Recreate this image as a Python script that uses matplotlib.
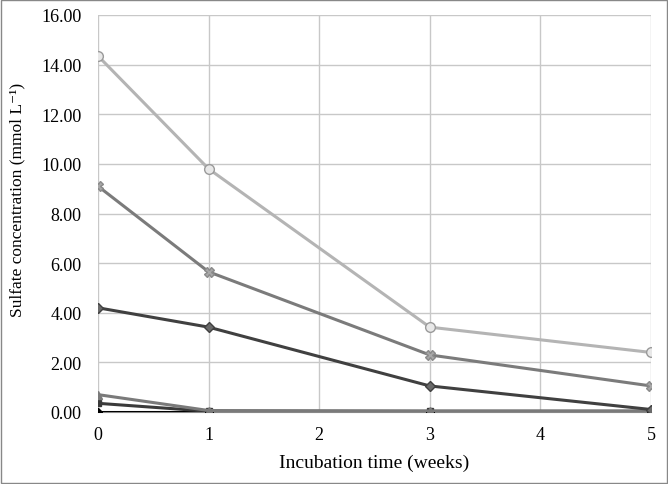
import matplotlib
matplotlib.use('Agg')
import matplotlib.pyplot as plt
from matplotlib.patches import Rectangle

weeks = [0, 1, 3, 5]
s_circle = [14.35, 9.80, 3.42, 2.40]
s_cross = [9.10, 5.65, 2.30, 1.05]
s_diamond = [4.20, 3.42, 1.05, 0.10]
s_triangle = [0.70, 0.06, 0.04, 0.04]
s_square = [0.35, 0.03, 0.03, 0.03]
s_black = [0.00, 0.00, 0.00, 0.00]

plt.rcParams['font.family'] = ['Liberation Serif', 'DejaVu Serif']

fig = plt.figure(figsize=(6.68, 4.85), dpi=100)
ax = fig.add_axes([98 / 668, 1 - 413 / 485, (651 - 98) / 668, (413 - 16) / 485])

ax.plot(weeks, s_black, '-D', color='#000000', markersize=4, linewidth=2.2, zorder=3)
ax.plot(weeks, s_square, '-s', color='#3a3a3a', markersize=5, linewidth=2.2, zorder=3)
ax.plot(weeks, s_triangle, '-^', color='#7a7a7a', markersize=6, linewidth=2.2, zorder=3)
ax.plot(weeks, s_diamond, '-D', color='#404040', markerfacecolor='#6a6a6a',
        markeredgecolor='#404040', markersize=5, linewidth=2.2, zorder=3)
ax.plot(weeks, s_cross, '-', color='#7b7b7b', linewidth=2.2, zorder=3)
ax.plot(weeks, s_cross, 'X', color='#a8a8a8', markeredgecolor='#8a8a8a',
        markersize=7, linestyle='none', zorder=4)
ax.plot(weeks, s_circle, '-o', color='#b4b4b4', markerfacecolor='#e8e8e8',
        markeredgecolor='#9a9a9a', markersize=7, linewidth=2.2, zorder=3)

ax.set_xlim(0, 5)
ax.set_ylim(0, 16)
ax.set_xticks(range(0, 6))
ax.set_yticks(range(0, 17, 2))
ax.set_yticklabels(['%.2f' % v for v in range(0, 17, 2)])
ax.grid(True, color='#c8c8c8', linewidth=1)
ax.set_axisbelow(True)
for side in ['top', 'right', 'left']:
    ax.spines[side].set_visible(False)
ax.spines['bottom'].set_color('#888888')
ax.tick_params(axis='both', length=0, labelsize=13, pad=10)
ax.tick_params(axis='y', pad=12)

ax.set_xlabel('Incubation time (weeks)', fontsize=14, labelpad=8)
ax.set_ylabel('Sulfate concentration (mmol L\u207b\u00b9)', fontsize=12.5)
ax.yaxis.set_label_coords(-0.132, 0.537)

fig.patches.append(Rectangle((0.0015, 0.002), 0.997, 0.996, transform=fig.transFigure,
                             fill=False, edgecolor='#888888', linewidth=1))

fig.savefig('out.png', dpi=100)
